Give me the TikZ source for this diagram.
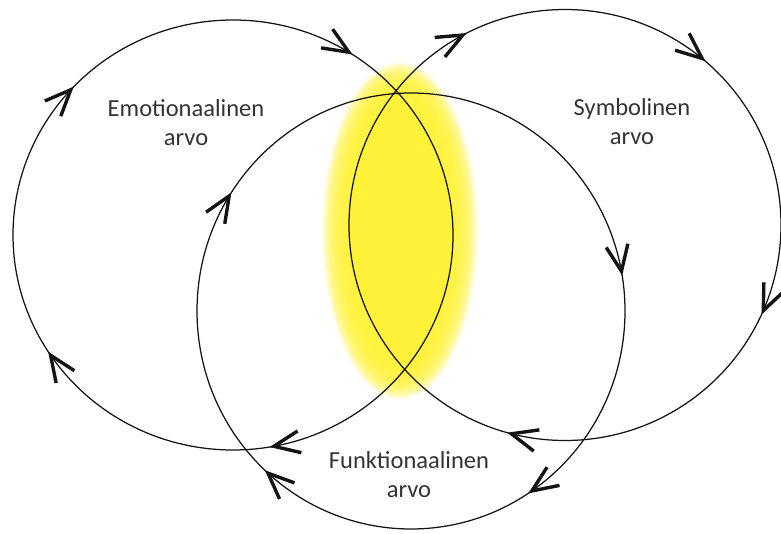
\documentclass[tikz,border=0pt]{standalone}
\usepackage{fontspec}
\setmainfont{Carlito}
\usetikzlibrary{decorations.markings}
\definecolor{ValueInk}{gray}{0.08}
\definecolor{ValueText}{gray}{0.2}
\definecolor{ValueGlow}{RGB}{255,242,56}
\newcommand{\valuebarb}{\draw[value/barb] (-28pt,-11pt) -- (-2pt,0pt) -- (-28pt,11pt);}
\tikzset{
    value/diagram/.style={
        x=1pt, y=-1pt,
        line cap=round,
        line join=round
    },
    value/ring/.style={draw=ValueInk, line width=1.25pt},
    value/barb/.style={
        draw=ValueInk, line width=3.4pt,
        line cap=butt, line join=miter
    },
    value/halo/.style={fill=ValueGlow, fill opacity=0.18, draw=none},
    value/label/.style={
        font=\fontsize{24.5}{29}\selectfont,
        text=ValueText, align=center, inner sep=0pt
    },
    value/flow/.style n args={4}{
        postaction={decorate},
        decoration={markings,
            mark=at position #1 with {\valuebarb},
            mark=at position #2 with {\valuebarb},
            mark=at position #3 with {\valuebarb},
            mark=at position #4 with {\valuebarb}}
    }
}
\begin{document}
\begin{tikzpicture}[value/diagram]
    \useasboundingbox (0,0) rectangle (781,534);
    % glow round the overlap
    \foreach \i in {0,...,15} {
        \fill[value/halo] (400,231)
            ellipse [x radius={52+1.7*\i}, y radius={138+2*\i}];
    }
    \begin{scope}
        \clip (233,235) ellipse [x radius=220, y radius=215];
        \fill[ValueGlow] (565,225) ellipse [x radius=216, y radius=215.5];
    \end{scope}
    % the three value cycles
    \draw[value/ring, value/flow={0.2214}{0.4078}{0.6186}{0.8406}]
        (233,235) ellipse [x radius=220, y radius=215];
    \draw[value/ring, value/flow={0.0664}{0.2914}{0.673}{0.861}]
        (565,225) ellipse [x radius=216, y radius=215.5];
    \draw[value/ring, value/flow={0.1567}{0.3672}{0.5906}{0.972}]
        (411,311) ellipse [x radius=214, y radius=218];
    \node[value/label] (emotional) at (186,123) {Emotionaalinen\\arvo};
    \node[value/label] (symbolic) at (632,122) {Symbolinen\\arvo};
    \node[value/label] (functional) at (409,475) {Funktionaalinen\\arvo};
\end{tikzpicture}
\end{document}
